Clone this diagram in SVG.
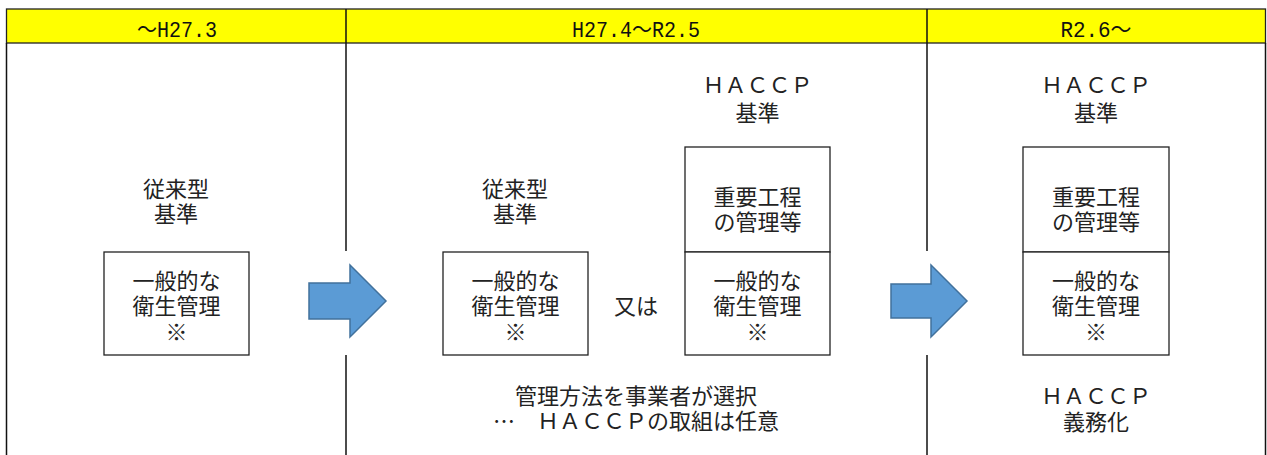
<svg xmlns="http://www.w3.org/2000/svg" width="1267" height="455" viewBox="0 0 1267 455" xml:lang="ja">
<style>
.hdr{fill:#FFFF00;stroke:#222;stroke-width:1.3}
.hl{font-family:"Liberation Mono","Noto Sans CJK JP",monospace;font-size:22px;fill:#111;text-anchor:middle}
.t{font-family:"Noto Sans CJK JP","Noto Sans CJK SC",sans-serif;font-size:22px;fill:#222;text-anchor:middle}
.box{fill:#fff;stroke:#222;stroke-width:1.3}
.ln{stroke:#111;stroke-width:1.5;fill:none}
.arr{fill:#5B9BD5;stroke:#41719C;stroke-width:1.5}
</style>
<rect width="1267" height="455" fill="#fff"/>
<g id="table">
<rect class="hdr" x="6.5" y="9" width="1259" height="34"/>
<line class="ln" x1="346" y1="9" x2="346" y2="43"/>
<line class="ln" x1="927" y1="9" x2="927" y2="43"/>
<line class="ln" x1="6.5" y1="43" x2="6.5" y2="455"/>
<line class="ln" x1="1265.5" y1="43" x2="1265.5" y2="455"/>
<line class="ln" x1="346" y1="43" x2="346" y2="251"/>
<line class="ln" x1="346" y1="355" x2="346" y2="455"/>
<line class="ln" x1="927" y1="43" x2="927" y2="251"/>
<line class="ln" x1="927" y1="355" x2="927" y2="455"/>
<text class="hl" x="177" y="37" textLength="80" lengthAdjust="spacingAndGlyphs">～H27.3</text>
<text class="hl" x="636" y="37" textLength="128" lengthAdjust="spacingAndGlyphs">H27.4～R2.5</text>
<text class="hl" x="1096" y="37" textLength="71" lengthAdjust="spacingAndGlyphs">R2.6～</text>
</g>
<g id="col1">
<text class="t" x="176" y="197">従来型<tspan x="176" dy="25">基準</tspan></text>
<g id="box1">
<rect class="box" x="104" y="252" width="145" height="103"/>
<text class="t" x="176.5" y="289">一般的な<tspan x="176.5" dy="25">衛生管理</tspan><tspan x="176.5" dy="26">※</tspan></text>
</g>
</g>
<g id="col2">
<text class="t" x="515" y="197">従来型<tspan x="515" dy="25">基準</tspan></text>
<g id="box2">
<rect class="box" x="443" y="252" width="145" height="103"/>
<text class="t" x="515.5" y="289">一般的な<tspan x="515.5" dy="25">衛生管理</tspan><tspan x="515.5" dy="26">※</tspan></text>
</g>
<text class="t" x="636" y="314">又は</text>
<text class="t" x="757.5" y="93">ＨＡＣＣＰ<tspan x="757.5" dy="28">基準</tspan></text>
<g id="box3">
<rect class="box" x="685" y="147" width="145" height="105"/>
<text class="t" x="757.5" y="205">重要工程<tspan x="757.5" dy="25">の管理等</tspan></text>
</g>
<g id="box4">
<rect class="box" x="685" y="252" width="145" height="103"/>
<text class="t" x="757.5" y="289">一般的な<tspan x="757.5" dy="25">衛生管理</tspan><tspan x="757.5" dy="26">※</tspan></text>
</g>
<text class="t" x="636" y="404">管理方法を事業者が選択<tspan x="636" dy="25">…　ＨＡＣＣＰの取組は任意</tspan></text>
</g>
<g id="col3">
<text class="t" x="1096" y="93">ＨＡＣＣＰ<tspan x="1096" dy="28">基準</tspan></text>
<g id="box5">
<rect class="box" x="1023" y="147" width="146" height="105"/>
<text class="t" x="1096" y="205">重要工程<tspan x="1096" dy="25">の管理等</tspan></text>
</g>
<g id="box6">
<rect class="box" x="1023" y="252" width="146" height="103"/>
<text class="t" x="1096" y="289">一般的な<tspan x="1096" dy="25">衛生管理</tspan><tspan x="1096" dy="26">※</tspan></text>
</g>
<text class="t" x="1096" y="404">ＨＡＣＣＰ<tspan x="1096" dy="26">義務化</tspan></text>
</g>
<g id="connectors">
<polygon class="arr" points="309,283 350,283 350,265 386,301 350,337 350,319 309,319"/>
<polygon class="arr" points="891,284 931,284 931,265 967,301 931,337 931,318 891,318"/>
</g>
</svg>
